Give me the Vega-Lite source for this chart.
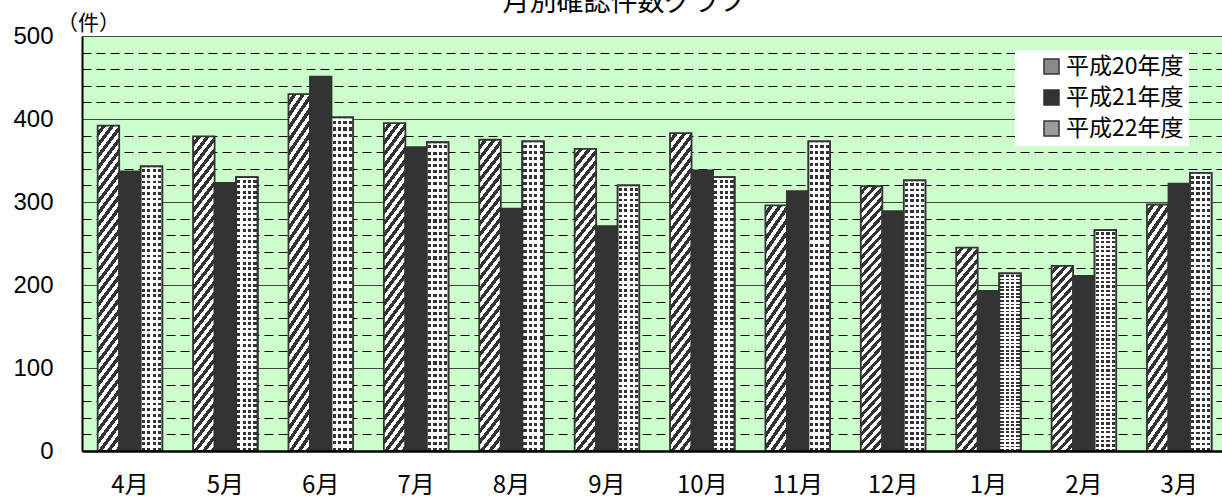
{
"$schema":"https://vega.github.io/schema/vega-lite/v6.json",
"width":1140,"height":415,
"autosize":{"type":"none"},
"padding":{"left":82,"top":36,"right":0,"bottom":48},
"background":"#ffffff",
"config":{"view":{"fill":"#ccffcc","stroke":null}},
"title":{"text":"月別確認件数グラフ","font":"Noto Sans CJK JP","fontSize":27,"fontWeight":"normal","color":"#000000","anchor":"middle","frame":"group","dx":-28,"offset":0,"baseline":"bottom","dy":32},
"data":{"values":[
{"month":"4月","series":"平成20年度","value":392},{"month":"4月","series":"平成21年度","value":337},{"month":"4月","series":"平成22年度","value":343},
{"month":"5月","series":"平成20年度","value":379},{"month":"5月","series":"平成21年度","value":323},{"month":"5月","series":"平成22年度","value":330},
{"month":"6月","series":"平成20年度","value":430},{"month":"6月","series":"平成21年度","value":451},{"month":"6月","series":"平成22年度","value":402},
{"month":"7月","series":"平成20年度","value":395},{"month":"7月","series":"平成21年度","value":366},{"month":"7月","series":"平成22年度","value":372},
{"month":"8月","series":"平成20年度","value":375},{"month":"8月","series":"平成21年度","value":292},{"month":"8月","series":"平成22年度","value":373},
{"month":"9月","series":"平成20年度","value":364},{"month":"9月","series":"平成21年度","value":271},{"month":"9月","series":"平成22年度","value":320},
{"month":"10月","series":"平成20年度","value":383},{"month":"10月","series":"平成21年度","value":338},{"month":"10月","series":"平成22年度","value":330},
{"month":"11月","series":"平成20年度","value":296},{"month":"11月","series":"平成21年度","value":313},{"month":"11月","series":"平成22年度","value":373},
{"month":"12月","series":"平成20年度","value":319},{"month":"12月","series":"平成21年度","value":289},{"month":"12月","series":"平成22年度","value":326},
{"month":"1月","series":"平成20年度","value":245},{"month":"1月","series":"平成21年度","value":193},{"month":"1月","series":"平成22年度","value":214},
{"month":"2月","series":"平成20年度","value":223},{"month":"2月","series":"平成21年度","value":211},{"month":"2月","series":"平成22年度","value":266},
{"month":"3月","series":"平成20年度","value":297},{"month":"3月","series":"平成21年度","value":322},{"month":"3月","series":"平成22年度","value":335}
]},
"encoding":{
"x":{"field":"month","type":"nominal","sort":["4月","5月","6月","7月","8月","9月","10月","11月","12月","1月","2月","3月"],
 "scale":{"paddingInner":0.323,"paddingOuter":0.137,"align":0.6},
 "axis":{"title":null,"labelAngle":0,"ticks":false,"tickSize":0,"domain":true,"domainColor":"#000000","domainWidth":2.5,"labelFont":"Noto Sans CJK JP","labelFontSize":24,"labelColor":"#000000","labelPadding":22,"labelDx":-3,"labelBaseline":"top","grid":false,"zindex":1}},
"xOffset":{"field":"series","type":"nominal","scale":{"domain":["平成20年度","平成21年度","平成22年度"],"paddingInner":0,"paddingOuter":0}},
"y":{"field":"value","type":"quantitative","scale":{"domain":[0,500],"nice":false},
 "axis":{"values":[0,20,40,60,80,100,120,140,160,180,200,220,240,260,280,300,320,340,360,380,400,420,440,460,480,500],
  "labelExpr":"datum.value % 100 === 0 ? datum.label : ''","labelOverlap":false,"labelFlush":false,
  "labelFont":"Liberation Sans","labelFontSize":24,"labelColor":"#000000","labelPadding":29,
  "ticks":false,"tickSize":0,"domain":true,"domainColor":"#000000","domainWidth":2,
  "grid":true,"gridWidth":1,
  "gridColor":{"condition":{"test":"datum.value % 100 === 0","value":"#444444"},"value":"#000000"},
  "gridDash":{"condition":{"test":"datum.value % 100 === 0","value":[]},"value":[9,5]},
  "title":"（件）","titleAngle":0,"titleX":6,"titleY":-13,"titleAlign":"center","titleBaseline":"middle","titleFont":"Noto Sans CJK JP","titleFontSize":21,"titleFontWeight":"normal","titleColor":"#000000"}}
},
"layer":[
{
"mark":{"type":"bar","stroke":"#333333","strokeWidth":1.8},
"encoding":{
"fill":{
 "condition":[
  {"test":"datum.series === '平成20年度' && datum.value <= 300","value":{"gradient":"linear","x1":0,"y1":0,"x2":0.195,"y2":1.538,"stops":[
{"offset":0,"color":"#fff"},{"offset":0.016,"color":"#fff"},{"offset":0.016,"color":"#333"},{"offset":0.032,"color":"#333"},{"offset":0.032,"color":"#fff"},{"offset":0.048,"color":"#fff"},{"offset":0.048,"color":"#333"},{"offset":0.064,"color":"#333"},{"offset":0.064,"color":"#fff"},{"offset":0.08,"color":"#fff"},{"offset":0.08,"color":"#333"},{"offset":0.096,"color":"#333"},{"offset":0.096,"color":"#fff"},{"offset":0.112,"color":"#fff"},{"offset":0.112,"color":"#333"},{"offset":0.128,"color":"#333"},{"offset":0.128,"color":"#fff"},{"offset":0.144,"color":"#fff"},{"offset":0.144,"color":"#333"},{"offset":0.16,"color":"#333"},{"offset":0.16,"color":"#fff"},{"offset":0.176,"color":"#fff"},{"offset":0.176,"color":"#333"},{"offset":0.192,"color":"#333"},{"offset":0.192,"color":"#fff"},{"offset":0.208,"color":"#fff"},{"offset":0.208,"color":"#333"},{"offset":0.224,"color":"#333"},{"offset":0.224,"color":"#fff"},{"offset":0.24,"color":"#fff"},{"offset":0.24,"color":"#333"},{"offset":0.256,"color":"#333"},{"offset":0.256,"color":"#fff"},{"offset":0.272,"color":"#fff"},{"offset":0.272,"color":"#333"},{"offset":0.288,"color":"#333"},{"offset":0.288,"color":"#fff"},{"offset":0.304,"color":"#fff"},{"offset":0.304,"color":"#333"},{"offset":0.32,"color":"#333"},{"offset":0.32,"color":"#fff"},{"offset":0.336,"color":"#fff"},{"offset":0.336,"color":"#333"},{"offset":0.352,"color":"#333"},{"offset":0.352,"color":"#fff"},{"offset":0.368,"color":"#fff"},{"offset":0.368,"color":"#333"},{"offset":0.384,"color":"#333"},{"offset":0.384,"color":"#fff"},{"offset":0.4,"color":"#fff"},{"offset":0.4,"color":"#333"},{"offset":0.416,"color":"#333"},{"offset":0.416,"color":"#fff"},{"offset":0.432,"color":"#fff"},{"offset":0.432,"color":"#333"},{"offset":0.448,"color":"#333"},{"offset":0.448,"color":"#fff"},{"offset":0.464,"color":"#fff"},{"offset":0.464,"color":"#333"},{"offset":0.48,"color":"#333"},{"offset":0.48,"color":"#fff"},{"offset":0.496,"color":"#fff"},{"offset":0.496,"color":"#333"},{"offset":0.512,"color":"#333"},{"offset":0.512,"color":"#fff"},{"offset":0.528,"color":"#fff"},{"offset":0.528,"color":"#333"},{"offset":0.544,"color":"#333"},{"offset":0.544,"color":"#fff"},{"offset":0.56,"color":"#fff"},{"offset":0.56,"color":"#333"},{"offset":0.576,"color":"#333"},{"offset":0.576,"color":"#fff"},{"offset":0.592,"color":"#fff"},{"offset":0.592,"color":"#333"},{"offset":0.608,"color":"#333"},{"offset":0.608,"color":"#fff"},{"offset":0.624,"color":"#fff"},{"offset":0.624,"color":"#333"},{"offset":0.64,"color":"#333"},{"offset":0.64,"color":"#fff"},{"offset":0.656,"color":"#fff"},{"offset":0.656,"color":"#333"},{"offset":0.672,"color":"#333"},{"offset":0.672,"color":"#fff"},{"offset":0.688,"color":"#fff"},{"offset":0.688,"color":"#333"},{"offset":0.704,"color":"#333"},{"offset":0.704,"color":"#fff"},{"offset":0.72,"color":"#fff"},{"offset":0.72,"color":"#333"},{"offset":0.736,"color":"#333"},{"offset":0.736,"color":"#fff"},{"offset":0.752,"color":"#fff"},{"offset":0.752,"color":"#333"},{"offset":0.768,"color":"#333"},{"offset":0.768,"color":"#fff"},{"offset":1,"color":"#fff"}]}},
  {"test":"datum.series === '平成20年度'","value":{"gradient":"linear","x1":0,"y1":0,"x2":0.0968,"y2":1.088,"stops":[
{"offset":0,"color":"#fff"},{"offset":0.016,"color":"#fff"},{"offset":0.016,"color":"#333"},{"offset":0.032,"color":"#333"},{"offset":0.032,"color":"#fff"},{"offset":0.048,"color":"#fff"},{"offset":0.048,"color":"#333"},{"offset":0.064,"color":"#333"},{"offset":0.064,"color":"#fff"},{"offset":0.08,"color":"#fff"},{"offset":0.08,"color":"#333"},{"offset":0.096,"color":"#333"},{"offset":0.096,"color":"#fff"},{"offset":0.112,"color":"#fff"},{"offset":0.112,"color":"#333"},{"offset":0.128,"color":"#333"},{"offset":0.128,"color":"#fff"},{"offset":0.144,"color":"#fff"},{"offset":0.144,"color":"#333"},{"offset":0.16,"color":"#333"},{"offset":0.16,"color":"#fff"},{"offset":0.176,"color":"#fff"},{"offset":0.176,"color":"#333"},{"offset":0.192,"color":"#333"},{"offset":0.192,"color":"#fff"},{"offset":0.208,"color":"#fff"},{"offset":0.208,"color":"#333"},{"offset":0.224,"color":"#333"},{"offset":0.224,"color":"#fff"},{"offset":0.24,"color":"#fff"},{"offset":0.24,"color":"#333"},{"offset":0.256,"color":"#333"},{"offset":0.256,"color":"#fff"},{"offset":0.272,"color":"#fff"},{"offset":0.272,"color":"#333"},{"offset":0.288,"color":"#333"},{"offset":0.288,"color":"#fff"},{"offset":0.304,"color":"#fff"},{"offset":0.304,"color":"#333"},{"offset":0.32,"color":"#333"},{"offset":0.32,"color":"#fff"},{"offset":0.336,"color":"#fff"},{"offset":0.336,"color":"#333"},{"offset":0.352,"color":"#333"},{"offset":0.352,"color":"#fff"},{"offset":0.368,"color":"#fff"},{"offset":0.368,"color":"#333"},{"offset":0.384,"color":"#333"},{"offset":0.384,"color":"#fff"},{"offset":0.4,"color":"#fff"},{"offset":0.4,"color":"#333"},{"offset":0.416,"color":"#333"},{"offset":0.416,"color":"#fff"},{"offset":0.432,"color":"#fff"},{"offset":0.432,"color":"#333"},{"offset":0.448,"color":"#333"},{"offset":0.448,"color":"#fff"},{"offset":0.464,"color":"#fff"},{"offset":0.464,"color":"#333"},{"offset":0.48,"color":"#333"},{"offset":0.48,"color":"#fff"},{"offset":0.496,"color":"#fff"},{"offset":0.496,"color":"#333"},{"offset":0.512,"color":"#333"},{"offset":0.512,"color":"#fff"},{"offset":0.528,"color":"#fff"},{"offset":0.528,"color":"#333"},{"offset":0.544,"color":"#333"},{"offset":0.544,"color":"#fff"},{"offset":0.56,"color":"#fff"},{"offset":0.56,"color":"#333"},{"offset":0.576,"color":"#333"},{"offset":0.576,"color":"#fff"},{"offset":0.592,"color":"#fff"},{"offset":0.592,"color":"#333"},{"offset":0.608,"color":"#333"},{"offset":0.608,"color":"#fff"},{"offset":0.624,"color":"#fff"},{"offset":0.624,"color":"#333"},{"offset":0.64,"color":"#333"},{"offset":0.64,"color":"#fff"},{"offset":0.656,"color":"#fff"},{"offset":0.656,"color":"#333"},{"offset":0.672,"color":"#333"},{"offset":0.672,"color":"#fff"},{"offset":0.688,"color":"#fff"},{"offset":0.688,"color":"#333"},{"offset":0.704,"color":"#333"},{"offset":0.704,"color":"#fff"},{"offset":0.72,"color":"#fff"},{"offset":0.72,"color":"#333"},{"offset":0.736,"color":"#333"},{"offset":0.736,"color":"#fff"},{"offset":0.752,"color":"#fff"},{"offset":0.752,"color":"#333"},{"offset":0.768,"color":"#333"},{"offset":0.768,"color":"#fff"},{"offset":0.784,"color":"#fff"},{"offset":0.784,"color":"#333"},{"offset":0.8,"color":"#333"},{"offset":0.8,"color":"#fff"},{"offset":0.816,"color":"#fff"},{"offset":0.816,"color":"#333"},{"offset":0.832,"color":"#333"},{"offset":0.832,"color":"#fff"},{"offset":0.848,"color":"#fff"},{"offset":0.848,"color":"#333"},{"offset":0.864,"color":"#333"},{"offset":0.864,"color":"#fff"},{"offset":0.88,"color":"#fff"},{"offset":0.88,"color":"#333"},{"offset":0.896,"color":"#333"},{"offset":0.896,"color":"#fff"},{"offset":0.912,"color":"#fff"},{"offset":0.912,"color":"#333"},{"offset":0.928,"color":"#333"},{"offset":0.928,"color":"#fff"},{"offset":0.944,"color":"#fff"},{"offset":0.944,"color":"#333"},{"offset":0.96,"color":"#333"},{"offset":0.96,"color":"#fff"},{"offset":0.976,"color":"#fff"},{"offset":0.976,"color":"#333"},{"offset":0.992,"color":"#333"},{"offset":0.992,"color":"#fff"},{"offset":1,"color":"#fff"}]}},
  {"test":"datum.series === '平成22年度'","value":{"gradient":"linear","x1":0,"y1":0,"x2":0,"y2":1,"stops":[
{"offset":0,"color":"#fff"},{"offset":0.01,"color":"#fff"},{"offset":0.01,"color":"#333"},{"offset":0.02,"color":"#333"},{"offset":0.02,"color":"#fff"},{"offset":0.03,"color":"#fff"},{"offset":0.03,"color":"#333"},{"offset":0.04,"color":"#333"},{"offset":0.04,"color":"#fff"},{"offset":0.05,"color":"#fff"},{"offset":0.05,"color":"#333"},{"offset":0.06,"color":"#333"},{"offset":0.06,"color":"#fff"},{"offset":0.07,"color":"#fff"},{"offset":0.07,"color":"#333"},{"offset":0.08,"color":"#333"},{"offset":0.08,"color":"#fff"},{"offset":0.09,"color":"#fff"},{"offset":0.09,"color":"#333"},{"offset":0.1,"color":"#333"},{"offset":0.1,"color":"#fff"},{"offset":0.11,"color":"#fff"},{"offset":0.11,"color":"#333"},{"offset":0.12,"color":"#333"},{"offset":0.12,"color":"#fff"},{"offset":0.13,"color":"#fff"},{"offset":0.13,"color":"#333"},{"offset":0.14,"color":"#333"},{"offset":0.14,"color":"#fff"},{"offset":0.15,"color":"#fff"},{"offset":0.15,"color":"#333"},{"offset":0.16,"color":"#333"},{"offset":0.16,"color":"#fff"},{"offset":0.17,"color":"#fff"},{"offset":0.17,"color":"#333"},{"offset":0.18,"color":"#333"},{"offset":0.18,"color":"#fff"},{"offset":0.19,"color":"#fff"},{"offset":0.19,"color":"#333"},{"offset":0.2,"color":"#333"},{"offset":0.2,"color":"#fff"},{"offset":0.21,"color":"#fff"},{"offset":0.21,"color":"#333"},{"offset":0.22,"color":"#333"},{"offset":0.22,"color":"#fff"},{"offset":0.23,"color":"#fff"},{"offset":0.23,"color":"#333"},{"offset":0.24,"color":"#333"},{"offset":0.24,"color":"#fff"},{"offset":0.25,"color":"#fff"},{"offset":0.25,"color":"#333"},{"offset":0.26,"color":"#333"},{"offset":0.26,"color":"#fff"},{"offset":0.27,"color":"#fff"},{"offset":0.27,"color":"#333"},{"offset":0.28,"color":"#333"},{"offset":0.28,"color":"#fff"},{"offset":0.29,"color":"#fff"},{"offset":0.29,"color":"#333"},{"offset":0.3,"color":"#333"},{"offset":0.3,"color":"#fff"},{"offset":0.31,"color":"#fff"},{"offset":0.31,"color":"#333"},{"offset":0.32,"color":"#333"},{"offset":0.32,"color":"#fff"},{"offset":0.33,"color":"#fff"},{"offset":0.33,"color":"#333"},{"offset":0.34,"color":"#333"},{"offset":0.34,"color":"#fff"},{"offset":0.35,"color":"#fff"},{"offset":0.35,"color":"#333"},{"offset":0.36,"color":"#333"},{"offset":0.36,"color":"#fff"},{"offset":0.37,"color":"#fff"},{"offset":0.37,"color":"#333"},{"offset":0.38,"color":"#333"},{"offset":0.38,"color":"#fff"},{"offset":0.39,"color":"#fff"},{"offset":0.39,"color":"#333"},{"offset":0.4,"color":"#333"},{"offset":0.4,"color":"#fff"},{"offset":0.41,"color":"#fff"},{"offset":0.41,"color":"#333"},{"offset":0.42,"color":"#333"},{"offset":0.42,"color":"#fff"},{"offset":0.43,"color":"#fff"},{"offset":0.43,"color":"#333"},{"offset":0.44,"color":"#333"},{"offset":0.44,"color":"#fff"},{"offset":0.45,"color":"#fff"},{"offset":0.45,"color":"#333"},{"offset":0.46,"color":"#333"},{"offset":0.46,"color":"#fff"},{"offset":0.47,"color":"#fff"},{"offset":0.47,"color":"#333"},{"offset":0.48,"color":"#333"},{"offset":0.48,"color":"#fff"},{"offset":0.49,"color":"#fff"},{"offset":0.49,"color":"#333"},{"offset":0.5,"color":"#333"},{"offset":0.5,"color":"#fff"},{"offset":0.51,"color":"#fff"},{"offset":0.51,"color":"#333"},{"offset":0.52,"color":"#333"},{"offset":0.52,"color":"#fff"},{"offset":0.53,"color":"#fff"},{"offset":0.53,"color":"#333"},{"offset":0.54,"color":"#333"},{"offset":0.54,"color":"#fff"},{"offset":0.55,"color":"#fff"},{"offset":0.55,"color":"#333"},{"offset":0.56,"color":"#333"},{"offset":0.56,"color":"#fff"},{"offset":0.57,"color":"#fff"},{"offset":0.57,"color":"#333"},{"offset":0.58,"color":"#333"},{"offset":0.58,"color":"#fff"},{"offset":0.59,"color":"#fff"},{"offset":0.59,"color":"#333"},{"offset":0.6,"color":"#333"},{"offset":0.6,"color":"#fff"},{"offset":0.61,"color":"#fff"},{"offset":0.61,"color":"#333"},{"offset":0.62,"color":"#333"},{"offset":0.62,"color":"#fff"},{"offset":0.63,"color":"#fff"},{"offset":0.63,"color":"#333"},{"offset":0.64,"color":"#333"},{"offset":0.64,"color":"#fff"},{"offset":0.65,"color":"#fff"},{"offset":0.65,"color":"#333"},{"offset":0.66,"color":"#333"},{"offset":0.66,"color":"#fff"},{"offset":0.67,"color":"#fff"},{"offset":0.67,"color":"#333"},{"offset":0.68,"color":"#333"},{"offset":0.68,"color":"#fff"},{"offset":0.69,"color":"#fff"},{"offset":0.69,"color":"#333"},{"offset":0.7,"color":"#333"},{"offset":0.7,"color":"#fff"},{"offset":0.71,"color":"#fff"},{"offset":0.71,"color":"#333"},{"offset":0.72,"color":"#333"},{"offset":0.72,"color":"#fff"},{"offset":0.73,"color":"#fff"},{"offset":0.73,"color":"#333"},{"offset":0.74,"color":"#333"},{"offset":0.74,"color":"#fff"},{"offset":0.75,"color":"#fff"},{"offset":0.75,"color":"#333"},{"offset":0.76,"color":"#333"},{"offset":0.76,"color":"#fff"},{"offset":0.77,"color":"#fff"},{"offset":0.77,"color":"#333"},{"offset":0.78,"color":"#333"},{"offset":0.78,"color":"#fff"},{"offset":0.79,"color":"#fff"},{"offset":0.79,"color":"#333"},{"offset":0.8,"color":"#333"},{"offset":0.8,"color":"#fff"},{"offset":0.81,"color":"#fff"},{"offset":0.81,"color":"#333"},{"offset":0.82,"color":"#333"},{"offset":0.82,"color":"#fff"},{"offset":0.83,"color":"#fff"},{"offset":0.83,"color":"#333"},{"offset":0.84,"color":"#333"},{"offset":0.84,"color":"#fff"},{"offset":0.85,"color":"#fff"},{"offset":0.85,"color":"#333"},{"offset":0.86,"color":"#333"},{"offset":0.86,"color":"#fff"},{"offset":0.87,"color":"#fff"},{"offset":0.87,"color":"#333"},{"offset":0.88,"color":"#333"},{"offset":0.88,"color":"#fff"},{"offset":0.89,"color":"#fff"},{"offset":0.89,"color":"#333"},{"offset":0.9,"color":"#333"},{"offset":0.9,"color":"#fff"},{"offset":0.91,"color":"#fff"},{"offset":0.91,"color":"#333"},{"offset":0.92,"color":"#333"},{"offset":0.92,"color":"#fff"},{"offset":0.93,"color":"#fff"},{"offset":0.93,"color":"#333"},{"offset":0.94,"color":"#333"},{"offset":0.94,"color":"#fff"},{"offset":0.95,"color":"#fff"},{"offset":0.95,"color":"#333"},{"offset":0.96,"color":"#333"},{"offset":0.96,"color":"#fff"},{"offset":0.97,"color":"#fff"},{"offset":0.97,"color":"#333"},{"offset":0.98,"color":"#333"},{"offset":0.98,"color":"#fff"},{"offset":0.99,"color":"#fff"},{"offset":0.99,"color":"#333"},{"offset":1,"color":"#333"}]}}
 ],
 "field":"series","type":"nominal",
 "scale":{"domain":["平成20年度","平成21年度","平成22年度"],"range":["#8a8a8a","#333333","#9a9a9a"]},
 "legend":{"title":null,"orient":"none","legendX":933,"legendY":14,"direction":"vertical","fillColor":"#ffffff","strokeColor":null,"padding":5,"rowPadding":7,"symbolType":"square","symbolSize":225,"symbolOffset":20,"labelOffset":3,"labelFont":"Noto Sans CJK JP","labelFontSize":23,"labelColor":"#000000","labelLimit":400,"symbolStrokeColor":"#333333","symbolStrokeWidth":1.5}
}
}
},
{
"transform":[{"filter":"datum.series === '平成22年度'"}],
"mark":{"type":"bar","stroke":"#333333","strokeWidth":1.8,
 "fill":{"gradient":"linear","x1":0,"y1":0,"x2":1,"y2":0,"stops":[
{"offset":0,"color":"#fff"},{"offset":0.05,"color":"#fff"},{"offset":0.05,"color":"rgba(255,255,255,0)"},{"offset":0.2,"color":"rgba(255,255,255,0)"},{"offset":0.2,"color":"#fff"},{"offset":0.3,"color":"#fff"},{"offset":0.3,"color":"rgba(255,255,255,0)"},{"offset":0.45,"color":"rgba(255,255,255,0)"},{"offset":0.45,"color":"#fff"},{"offset":0.55,"color":"#fff"},{"offset":0.55,"color":"rgba(255,255,255,0)"},{"offset":0.7,"color":"rgba(255,255,255,0)"},{"offset":0.7,"color":"#fff"},{"offset":0.8,"color":"#fff"},{"offset":0.8,"color":"rgba(255,255,255,0)"},{"offset":0.95,"color":"rgba(255,255,255,0)"},{"offset":0.95,"color":"#fff"},{"offset":1,"color":"#fff"}]}}
}
]
}
